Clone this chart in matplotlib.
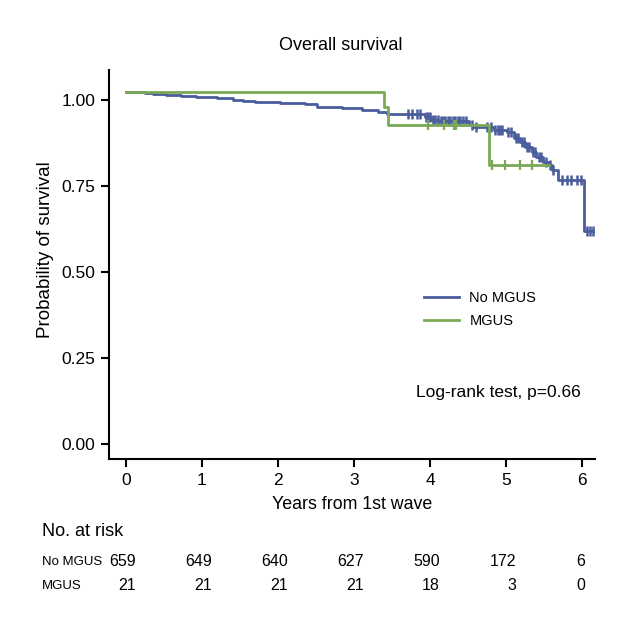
import numpy as np
import matplotlib
matplotlib.use("Agg")
import matplotlib.pyplot as plt
from matplotlib import font_manager

# pick a narrow font if available
names = {f.name for f in font_manager.fontManager.ttflist}
if "Liberation Sans Narrow" in names:
    plt.rcParams['font.family'] = ['Liberation Sans Narrow', 'DejaVu Sans']
else:
    plt.rcParams['font.family'] = ['Liberation Sans', 'DejaVu Sans']

# Kaplan-Meier steps
blue_t = [0, 0.25, 0.36, 0.53, 0.73, 0.93, 1.20, 1.41, 1.54, 1.70, 2.03, 2.36, 2.51, 2.84,
          3.10, 3.32, 3.43, 3.93, 4.02, 4.11, 4.51, 4.57, 4.84, 5.01, 5.10, 5.18, 5.25,
          5.34, 5.40, 5.49, 5.56, 5.60, 5.69, 6.02, 6.15]
blue_s = [1.023, 1.020, 1.017, 1.014, 1.011, 1.008, 1.005, 1.001, 0.998, 0.993, 0.990, 0.987,
          0.979, 0.976, 0.972, 0.966, 0.959, 0.951, 0.942, 0.938, 0.928, 0.920, 0.914, 0.906,
          0.889, 0.877, 0.863, 0.849, 0.834, 0.820, 0.810, 0.796, 0.767, 0.619, 0.619]
blue_cens = [3.71, 3.76, 3.83, 3.87, 3.95, 3.98, 4.00, 4.04, 4.07, 4.10, 4.14, 4.17, 4.20,
             4.24, 4.27, 4.30, 4.33, 4.37, 4.40, 4.44, 4.47, 4.55, 4.60, 4.75, 4.80, 4.86,
             4.89, 4.92, 4.95, 5.03, 5.06, 5.13, 5.16, 5.21, 5.23, 5.28, 5.30, 5.36, 5.38,
             5.43, 5.46, 5.52, 5.58, 5.62, 5.73, 5.80, 5.86, 5.93, 5.99, 6.06, 6.11, 6.14]

green_t = [0, 3.40, 3.45, 4.77, 5.56]
green_s = [1.023, 0.978, 0.928, 0.810, 0.810]
green_cens = [3.97, 4.19, 4.31, 4.34, 4.82, 4.99, 5.19, 5.34]

groups = ['No MGUS', 'MGUS']
risk_times = [0, 1, 2, 3, 4, 5, 6]
risk_nomgus = [659, 649, 640, 627, 590, 172, 6]
risk_mgus = [21, 21, 21, 21, 18, 3, 0]

blue = '#4a5d9c'
green = '#7aa955'


def step_value(t, times, surv):
    idx = np.searchsorted(times, t, side='right') - 1
    return np.array(surv)[idx]


fig = plt.figure(figsize=(6.38, 6.33), dpi=100)
ax = fig.add_axes([109/638, 1 - 459/633, (595-109)/638, (459-70)/633])

ax.step(blue_t, blue_s, where='post', color=blue, lw=2, label=groups[0])
ax.plot(blue_cens, step_value(blue_cens, blue_t, blue_s), ls='none', marker='|',
        ms=7, mew=1.8, color=blue)
ax.step(green_t, green_s, where='post', color=green, lw=2, label=groups[1])
ax.plot(green_cens, step_value(green_cens, green_t, green_s), ls='none', marker='|',
        ms=7, mew=1.6, color=green)

ax.set_xlim(-0.22, 6.17)
ax.set_ylim(-0.044, 1.087)
ax.set_xticks(risk_times)
ax.set_yticks([0, 0.25, 0.5, 0.75, 1.0])
ax.set_yticklabels(['0.00', '0.25', '0.50', '0.75', '1.00'])
for s in ['top', 'right']:
    ax.spines[s].set_visible(False)
for s in ['left', 'bottom']:
    ax.spines[s].set_linewidth(1.5)
ax.tick_params(axis='both', direction='out', length=6, width=1.5, labelsize=12.5, pad=4)

ax.set_xlabel('Years from 1st wave', fontsize=12.8, labelpad=6)
ax.set_ylabel('Probability of survival', fontsize=13.5)
ax.yaxis.set_label_coords(-(109-54)/486, 1 - (250-70)/389)
fig.text(341/638, 1 - 45/633, 'Overall survival', ha='center', va='center', fontsize=13)

ax.legend(loc='upper left', bbox_to_anchor=((411-109)/486, 1 - (278-70)/389), frameon=False,
          fontsize=10.5, handlelength=2.4, handletextpad=0.7, labelspacing=0.6)
fig.text(416/638, 1 - 392/633, 'Log-rank test, p=0.66', fontsize=12.5, va='center')

# risk table
fig.text(42/638, 1 - 532/633, 'No. at risk', fontsize=13, va='center')
fig.text(42/638, 1 - 562/633, groups[0], fontsize=9.5, va='center')
fig.text(42/638, 1 - 586/633, groups[1], fontsize=9.5, va='center')
tr = ax.get_xaxis_transform()
for t, a, b in zip(risk_times, risk_nomgus, risk_mgus):
    dx = 0.13 if t < 6 else 0.04
    ax.text(t + dx, 1 - (562-70)/389, str(a), transform=tr, ha='right', va='center',
            fontsize=11.5, clip_on=False)
    ax.text(t + dx, 1 - (586-70)/389, str(b), transform=tr, ha='right', va='center',
            fontsize=11.5, clip_on=False)

fig.savefig('out.png', dpi=100)
